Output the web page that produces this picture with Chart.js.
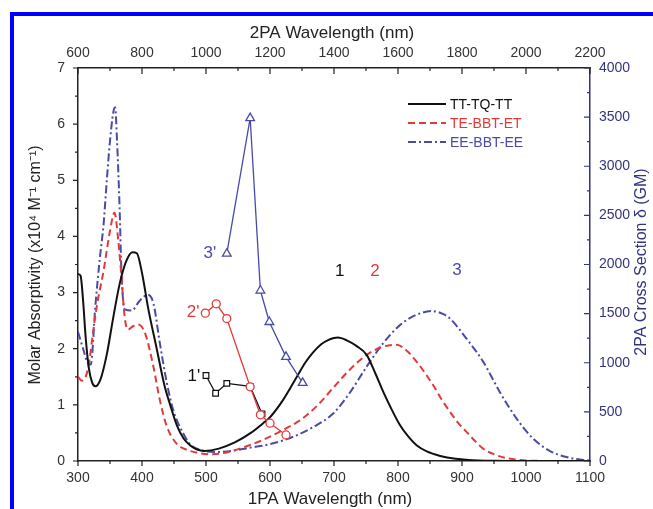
<!DOCTYPE html>
<html lang="en">
<head>
<meta charset="UTF-8">
<title>1PA / 2PA spectra</title>
<script src="https://cdn.jsdelivr.net/npm/chart.js@4"></script>
<style>
    body { margin: 0; background: #fff; }
    #frame {
        position: absolute; left: 10px; top: 12px;
        width: 700px; height: 600px;
        border: 4px solid #0000ff;
    }
    #wrap { position: absolute; left: 0; top: 0; width: 653px; height: 509px; }
</style>
</head>
<body>
<div id="frame"></div>
<div id="wrap"><canvas id="chart" width="653" height="509"></canvas></div>
<script>
// 1PA absorption (x10^4 M-1 cm-1)
const ttX = [300,304,308,312,317,322,327,335,345,355,365,375,385,392,400,410,423,435,444,455,465,475,485,498,520,545,570,590,600,620,642,655,667,680,690,700,706,720,735,751,765,777,790,803,815,829,845,866,890,910,950,1000,1100];
const ttY = [3.33,3.3,2.85,2.2,1.65,1.4,1.33,1.45,1.9,2.55,3.15,3.55,3.72,3.7,3.35,2.7,2.0,1.35,1.0,0.62,0.4,0.28,0.21,0.18,0.22,0.33,0.5,0.68,0.78,1.08,1.5,1.75,1.93,2.08,2.15,2.19,2.2,2.15,2.05,1.89,1.55,1.23,0.92,0.64,0.45,0.28,0.17,0.09,0.04,0.02,0.005,0,0];

const teX = [300,306,312,318,323,330,340,350,357,363,368,373,378,386,394,405,418,428,439,454,470,490,510,535,560,590,620,650,675,700,725,751,775,798,815,829,842,855,868,881,894,907,920,933,950,970,1000,1050,1100];
const teY = [1.5,1.43,1.5,1.8,2.25,2.8,3.39,4.1,4.42,3.92,3.27,2.56,2.34,2.4,2.43,2.27,1.67,1.08,0.61,0.31,0.2,0.14,0.12,0.16,0.25,0.38,0.55,0.75,1.0,1.32,1.63,1.89,2.03,2.07,1.95,1.77,1.57,1.35,1.1,0.88,0.68,0.52,0.36,0.22,0.12,0.05,0.01,0,0];

const eeX = [300,308,315,320,327,334,340,345,350,355,358,361,365,368,373,384,396,409,418,428,439,449,464,475,490,514,540,570,600,640,670,699,725,751,777,803,828,853,870,881,907,933,959,985,1011,1037,1063,1089,1100];
const eeY = [2.3,2.0,1.75,1.72,2.74,3.6,4.22,5.0,5.7,6.2,6.3,5.7,4.51,3.33,2.7,2.68,2.85,2.96,2.8,2.09,1.38,0.9,0.5,0.3,0.2,0.16,0.18,0.24,0.3,0.45,0.62,0.85,1.22,1.68,2.1,2.42,2.6,2.67,2.62,2.54,2.18,1.77,1.23,0.76,0.4,0.18,0.07,0.02,0.01];

// 2PA cross sections (GM) vs 2PA wavelength
const tpa1X = [1000,1030,1065,1138,1175];
const tpa1Y = [870,690,790,760,480];
const tpa2X = [998,1032,1065,1138,1170,1200,1250];
const tpa2Y = [1505,1600,1450,755,470,385,265];
const tpa3X = [1065,1138,1170,1198,1250,1302];
const tpa3Y = [2110,3490,1735,1415,1060,795];

const seriesNames = ['TT-TQ-TT', 'TE-BBT-ET', 'EE-BBT-EE'];

// curve labels: [text, x axis, x value, y value]
const curveLabels = [
    ['1', 'x', 709, 3.37],
    ['2', 'x', 764, 3.37],
    ['3', 'x', 892, 3.39],
    ["1'", 'x2', 962, 863],
    ["2'", 'x2', 960, 1513],
    ["3'", 'x2', 1012, 2112]
];

const BLACK = '#111111';
const RED = '#e23a3a';
const BLUE = '#4a4aa8';
const NAVY = '#34347e';
const FONT = '"Liberation Sans", Arial, sans-serif';

function pts(xs, ys) {
    return xs.map((x, i) => ({ x: x, y: ys[i] }));
}

const ticksPlugin = {
    id: 'ticksPlugin',
    afterDraw(chart) {
        const ctx = chart.ctx;
        const s = chart.scales;
        const a = chart.chartArea;
        ctx.save();
        ctx.lineWidth = 1.2;
        ctx.strokeStyle = '#222';
        ctx.beginPath();
        for (let v = 300; v <= 1100; v += 50) {
            const px = s.x.getPixelForValue(v);
            const len = v % 100 === 0 ? 5 : 3;
            ctx.moveTo(px, a.bottom); ctx.lineTo(px, a.bottom + len);
        }
        for (let v = 0; v <= 7; v += 0.5) {
            const py = s.y.getPixelForValue(v);
            const len = v % 1 === 0 ? 5 : 3;
            ctx.moveTo(a.left, py); ctx.lineTo(a.left - len, py);
        }
        for (let v = 600; v <= 2200; v += 100) {
            const px = s.x2.getPixelForValue(v);
            const len = v % 200 === 0 ? 6 : 3;
            ctx.moveTo(px, a.top); ctx.lineTo(px, a.top + len);
        }
        ctx.stroke();
        ctx.strokeStyle = NAVY;
        ctx.beginPath();
        for (let v = 0; v <= 4000; v += 250) {
            const py = s.y2.getPixelForValue(v);
            const len = v % 500 === 0 ? 6 : 3;
            ctx.moveTo(a.right, py); ctx.lineTo(a.right - len, py);
        }
        ctx.stroke();

        // axis titles
        ctx.fillStyle = '#222';
        ctx.textAlign = 'center';
        ctx.textBaseline = 'middle';
        ctx.font = '17px ' + FONT;
        ctx.fillText('1PA Wavelength (nm)', 330, 499);
        ctx.fillText('2PA Wavelength (nm)', 332, 33);
        ctx.font = '16px ' + FONT;
        ctx.save();
        ctx.translate(36, 265);
        ctx.rotate(-Math.PI / 2);
        ctx.fillText('Molar Absorptivity (x10\u2074 M\u207B\u00B9 cm\u207B\u00B9)', 0, 0);
        ctx.restore();
        ctx.save();
        ctx.fillStyle = NAVY;
        ctx.translate(642, 262);
        ctx.rotate(-Math.PI / 2);
        ctx.fillText('2PA Cross Section \u03B4 (GM)', 0, 0);
        ctx.restore();

        // legend
        const colors = [BLACK, RED, BLUE];
        const dashes = [[], [7, 4], [8, 3, 2, 3]];
        ctx.font = '14px ' + FONT;
        ctx.textAlign = 'left';
        seriesNames.forEach((name, i) => {
            const y = 104 + i * 19;
            ctx.strokeStyle = colors[i];
            ctx.lineWidth = 2;
            ctx.setLineDash(dashes[i]);
            ctx.beginPath();
            ctx.moveTo(408, y); ctx.lineTo(446, y);
            ctx.stroke();
            ctx.setLineDash([]);
            ctx.fillStyle = colors[i];
            ctx.fillText(name, 450, y + 1);
        });

        // curve labels
        ctx.font = '17px ' + FONT;
        ctx.textAlign = 'center';
        const labelColors = [BLACK, RED, BLUE, BLACK, RED, BLUE];
        curveLabels.forEach((l, i) => {
            const xs = s[l[1]];
            const ys = l[1] === 'x' ? s.y : s.y2;
            ctx.fillStyle = labelColors[i];
            ctx.fillText(l[0], xs.getPixelForValue(l[2]), ys.getPixelForValue(l[3]));
        });
        ctx.restore();
    }
};

const plain = v => String(v);

new Chart(document.getElementById('chart'), {
    type: 'scatter',
    data: {
        datasets: [
            { data: pts(tpa3X, tpa3Y), xAxisID: 'x2', yAxisID: 'y2', showLine: true,
              borderColor: BLUE, borderWidth: 1.3, pointStyle: 'triangle', pointRadius: 5,
              pointBorderColor: BLUE, pointBackgroundColor: '#fff', pointBorderWidth: 1.3 },
            { data: pts(tpa2X, tpa2Y), xAxisID: 'x2', yAxisID: 'y2', showLine: true,
              borderColor: RED, borderWidth: 1.3, pointStyle: 'circle', pointRadius: 4,
              pointBorderColor: RED, pointBackgroundColor: '#fff', pointBorderWidth: 1.3 },
            { data: pts(tpa1X, tpa1Y), xAxisID: 'x2', yAxisID: 'y2', showLine: true,
              borderColor: BLACK, borderWidth: 1.3, pointStyle: 'rect', pointRadius: 4,
              pointBorderColor: BLACK, pointBackgroundColor: '#fff', pointBorderWidth: 1.2 },
            { label: seriesNames[0], data: pts(ttX, ttY), showLine: true, pointRadius: 0,
              borderColor: BLACK, borderWidth: 2, cubicInterpolationMode: 'monotone' },
            { label: seriesNames[1], data: pts(teX, teY), showLine: true, pointRadius: 0,
              borderColor: RED, borderWidth: 2, borderDash: [7, 4], cubicInterpolationMode: 'monotone' },
            { label: seriesNames[2], data: pts(eeX, eeY), showLine: true, pointRadius: 0,
              borderColor: BLUE, borderWidth: 2, borderDash: [8, 3, 2, 3], cubicInterpolationMode: 'monotone' }
        ]
    },
    options: {
        responsive: false,
        animation: false,
        devicePixelRatio: 1,
        layout: { padding: 0 },
        plugins: { legend: { display: false }, tooltip: { enabled: false } },
        scales: {
            x: {
                type: 'linear', position: 'bottom', min: 300, max: 1100,
                afterFit: s => { s.height = 48; },
                grid: { display: false, drawTicks: false },
                border: { display: true, color: '#222', width: 1.5 },
                ticks: { stepSize: 100, padding: 9, color: '#333', callback: plain, font: { size: 14, family: FONT } }
            },
            x2: {
                type: 'linear', position: 'top', min: 600, max: 2200,
                afterFit: s => { s.height = 68; },
                grid: { display: false, drawTicks: false },
                border: { display: true, color: '#222', width: 1.5 },
                ticks: { stepSize: 200, padding: 6, color: '#333', callback: plain, font: { size: 14, family: FONT } }
            },
            y: {
                type: 'linear', position: 'left', min: 0, max: 7,
                afterFit: s => { s.width = 78; },
                grid: { display: false, drawTicks: false },
                border: { display: true, color: '#222', width: 1.5 },
                ticks: { stepSize: 1, padding: 13, color: '#333', callback: plain, font: { size: 14, family: FONT } }
            },
            y2: {
                type: 'linear', position: 'right', min: 0, max: 4000,
                afterFit: s => { s.width = 63; },
                grid: { display: false, drawTicks: false },
                border: { display: true, color: NAVY, width: 1.5 },
                ticks: { stepSize: 500, padding: 9, color: NAVY, callback: plain, font: { size: 14, family: FONT } }
            }
        }
    },
    plugins: [ticksPlugin]
});
</script>
</body>
</html>
